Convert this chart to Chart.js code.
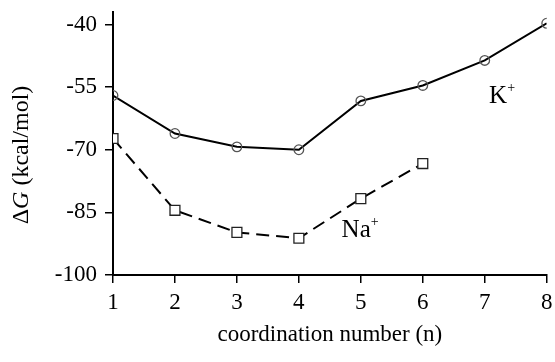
<!DOCTYPE html>
<html>
<head>
<meta charset="utf-8">
<script src="https://cdn.jsdelivr.net/npm/chart.js@4/dist/chart.umd.min.js"></script>
<style>
html,body{margin:0;padding:0;background:#fff;}
#wrap{width:555px;height:362px;position:relative;}
</style>
</head>
<body>
<div id="wrap"><canvas id="c" width="555" height="362"></canvas></div>
<script>
const coordination = [1, 2, 3, 4, 5, 6, 7, 8];
const kValues = [-57.0, -66.1, -69.3, -70.0, -58.3, -54.6, -48.6, -39.7];
const naValues = [-67.3, -84.5, -89.8, -91.2, -81.7, -73.3];
const yTicks = [-100, -85, -70, -55, -40];
const xTicks = [1, 2, 3, 4, 5, 6, 7, 8];
const seriesLabels = ['K', 'Na'];

const SERIF = '"Liberation Serif", "Times New Roman", serif';

const toPoints = (vals) => vals.map((v, i) => ({x: coordination[i], y: v}));

const labelPlugin = {
  id: 'labels',
  afterDatasetsDraw(chart) {
    const {ctx, scales} = chart;
    const xs = scales.x, ys = scales.y;
    ctx.save();
    ctx.fillStyle = '#000';
    ctx.textBaseline = 'alphabetic';
    ctx.textAlign = 'left';
    const drawIon = (name, xv, yv) => {
      const px = xs.getPixelForValue(xv), py = ys.getPixelForValue(yv);
      ctx.font = '25px ' + SERIF;
      ctx.fillText(name, px, py);
      const w = ctx.measureText(name).width;
      ctx.font = '14px ' + SERIF;
      ctx.fillText('+', px + w, py - 11);
    };
    drawIon(seriesLabels[0], 7.07, -58.9);
    drawIon(seriesLabels[1], 4.69, -91.0);
    // y title with italic G
    ctx.translate(22, 155);
    ctx.rotate(-Math.PI / 2);
    ctx.textBaseline = 'middle';
    const fs = 24;
    const p1 = '\u0394', p2 = 'G', p3 = ' (kcal/mol)';
    ctx.font = fs + 'px ' + SERIF;
    const w1 = ctx.measureText(p1).width;
    ctx.font = 'italic ' + fs + 'px ' + SERIF;
    const w2 = ctx.measureText(p2).width;
    ctx.font = fs + 'px ' + SERIF;
    const w3 = ctx.measureText(p3).width;
    let x0 = -(w1 + w2 + w3) / 2;
    ctx.fillText(p1, x0, 0);
    ctx.font = 'italic ' + fs + 'px ' + SERIF;
    ctx.fillText(p2, x0 + w1, 0);
    ctx.font = fs + 'px ' + SERIF;
    ctx.fillText(p3, x0 + w1 + w2, 0);
    ctx.restore();
  }
};

new Chart(document.getElementById('c'), {
  type: 'scatter',
  data: {
    datasets: [
      {
        label: 'K+',
        data: toPoints(kValues),
        showLine: true,
        borderColor: '#000',
        borderWidth: 2,
        pointStyle: 'circle',
        pointRadius: 4.8,
        pointBorderColor: '#555',
        pointBorderWidth: 1.3,
        pointBackgroundColor: 'rgba(255,255,255,0)',
        tension: 0
      },
      {
        label: 'Na+',
        data: toPoints(naValues),
        showLine: true,
        borderColor: '#000',
        borderWidth: 2,
        borderDash: [13, 7],
        pointStyle: 'rect',
        pointRadius: 7,
        pointBorderColor: '#222',
        pointBorderWidth: 1.3,
        pointBackgroundColor: '#fff',
        tension: 0
      }
    ]
  },
  options: {
    responsive: false,
    animation: false,
    devicePixelRatio: 1,
    layout: {padding: {top: 12, right: 7, left: 0, bottom: 0}},
    plugins: {legend: {display: false}, tooltip: {enabled: false}},
    scales: {
      x: {
        type: 'linear',
        min: 1, max: 8,
        afterBuildTicks: (s) => { s.ticks = xTicks.map(v => ({value: v})); },
        afterFit: (s) => { s.height = 87; s.paddingLeft = 0; s.paddingRight = 0; },
        grid: {display: true, drawOnChartArea: false, drawTicks: true, tickLength: 8, color: '#000', lineWidth: 1.5},
        border: {display: true, color: '#000', width: 2},
        ticks: {color: '#000', font: {family: SERIF, size: 23}, padding: 6, maxRotation: 0},
        title: {display: true, text: 'coordination number (n)', color: '#000', font: {family: SERIF, size: 23}, padding: {top: 0, bottom: 13}}
      },
      y: {
        type: 'linear',
        min: -100, max: -37,
        afterBuildTicks: (s) => { s.ticks = yTicks.map(v => ({value: v})); },
        afterFit: (s) => { s.width = 113; s.paddingTop = 0; s.paddingBottom = 0; },
        grid: {display: true, drawOnChartArea: false, drawTicks: true, tickLength: 8, color: '#000', lineWidth: 1.5},
        border: {display: true, color: '#000', width: 2},
        ticks: {color: '#000', font: {family: SERIF, size: 23}, padding: 8}
      }
    }
  },
  plugins: [labelPlugin]
});
</script>
</body>
</html>
